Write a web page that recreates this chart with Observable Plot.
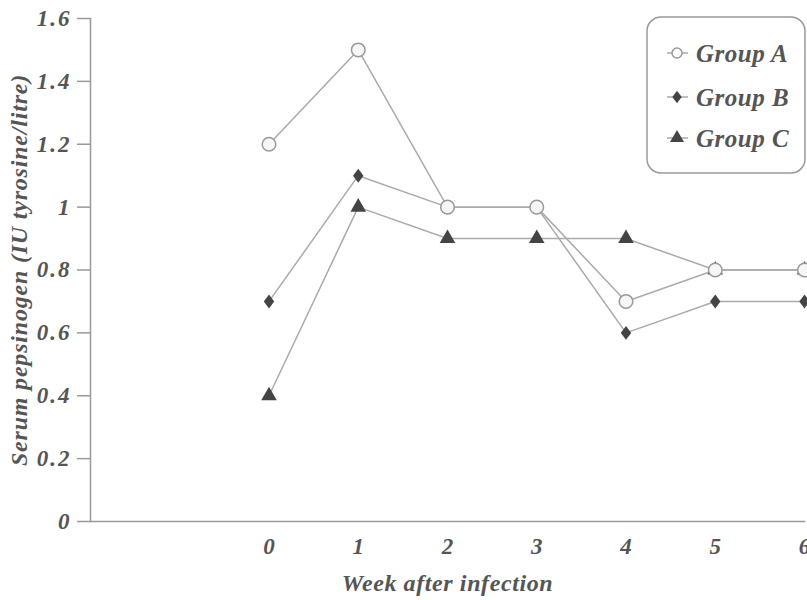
<!DOCTYPE html>
<html><head><meta charset="utf-8">
<script src="https://cdn.jsdelivr.net/npm/d3@7"></script>
<script src="https://cdn.jsdelivr.net/npm/@observablehq/plot@0.6"></script>
<style>
body{margin:0;background:#fff}
#chart{position:relative;width:807px;height:600px;overflow:hidden}
#legend{position:absolute;left:640px;top:10px}
#chart svg g[aria-label="y-axis tick label"]{font-size:23px;letter-spacing:2px}
#chart svg g[aria-label="x-axis tick label"]{font-size:23px}
#chart svg g[aria-label="x-axis label"]{font-size:24px;letter-spacing:0.6px}
#chart svg g[aria-label="y-axis label"]{font-size:24px;letter-spacing:0.8px}
</style>
</head><body><div id="chart"></div>
<script>
const weeks = [0, 1, 2, 3, 4, 5, 6];
const groupA = [1.2, 1.5, 1.0, 1.0, 0.7, 0.8, 0.8];
const groupB = [0.7, 1.1, 1.0, 1.0, 0.6, 0.7, 0.7];
const groupC = [0.4, 1.0, 0.9, 0.9, 0.9, 0.8, 0.8];
const groupNames = ["Group A", "Group B", "Group C"];
const yTicks = [0, 0.2, 0.4, 0.6, 0.8, 1, 1.2, 1.4, 1.6];
const yTickLabels = ["0", "0.2", "0.4", "0.6", "0.8", "1", "1.2", "1.4", "1.6"];
const xLabel = "Week after infection";
const yLabel = "Serum pepsinogen (IU tyrosine/litre)";

const series = [groupA, groupB, groupC];
const rows = series.flatMap((vals, g) => weeks.map((w, i) => ({week: w, value: vals[i], group: groupNames[g]})));
const rowsOf = name => rows.filter(d => d.group === name);

// diamond, taller than wide (width = 0.75 * height), area = size
const diamond = {
  draw(context, size) {
    const h = Math.sqrt(size / 0.375), w = h * 0.75;
    context.moveTo(0, -h / 2);
    context.lineTo(w / 2, 0);
    context.lineTo(0, h / 2);
    context.lineTo(-w / 2, 0);
    context.closePath();
  }
};

const font = "'Liberation Serif', 'DejaVu Serif', serif";
const lineColor = "#aaa", axisColor = "#999", markColor = "#444", textColor = "#555";

const chart = Plot.plot({
  width: 807,
  height: 600,
  marginLeft: 90,
  marginRight: 3,
  marginTop: 18,
  marginBottom: 79,
  style: {fontFamily: font, fontWeight: "bold", fontStyle: "italic", fontSize: "22px", color: textColor, background: "#fff"},
  x: {domain: [-2, 6]},
  y: {domain: [0, 1.6]},
  marks: [
    Plot.frame({anchor: "left", stroke: axisColor, strokeWidth: 1.5}),
    Plot.frame({anchor: "bottom", stroke: axisColor, strokeWidth: 1.5}),
    Plot.axisY({ticks: yTicks, tickFormat: d => yTickLabels[yTicks.indexOf(d)], tickSize: 13, tickPadding: 6, stroke: axisColor, strokeWidth: 1.5, label: yLabel, labelArrow: "none", labelAnchor: "center", labelOffset: 81}),
    Plot.axisX({ticks: weeks, tickFormat: d => String(d), tickSize: 0, tickPadding: 16, label: xLabel, labelArrow: "none", labelAnchor: "center", labelOffset: 69}),
    Plot.line(rows, {x: "week", y: "value", z: "group", stroke: lineColor, strokeWidth: 1.5}),
    Plot.dot(rowsOf("Group C"), {x: "week", y: "value", symbol: "triangle", r: 5.8, fill: markColor, stroke: "none"}),
    Plot.dot(rowsOf("Group B"), {x: "week", y: "value", symbol: diamond, r: 4.8, fill: markColor, stroke: "none"}),
    Plot.dot(rowsOf("Group A"), {x: "week", y: "value", symbol: "circle", r: 6.8, fill: "#f6f6f6", stroke: axisColor, strokeWidth: 1.5})
  ]
});

const container = document.getElementById("chart");
container.appendChild(chart);

// legend
const lg = d3.select(container).append("svg").attr("id", "legend").attr("width", 167).attr("height", 170);
lg.append("rect").attr("x", 7).attr("y", 7).attr("width", 158).attr("height", 156).attr("rx", 14)
  .attr("fill", "#fff").attr("stroke", axisColor).attr("stroke-width", 1.5);
const rowY = [43, 87, 128];
const symbols = [
  {type: d3.symbolCircle, size: Math.PI * 25, fill: "#fff", stroke: axisColor},
  {type: diamond, size: Math.PI * 4.3 * 4.3, fill: markColor, stroke: "none"},
  {type: d3.symbolTriangle, size: Math.PI * 27, fill: markColor, stroke: "none"}
];
groupNames.forEach((name, i) => {
  const g = lg.append("g").attr("transform", `translate(0,${rowY[i]})`);
  g.append("line").attr("x1", 27).attr("x2", 48).attr("y1", 0).attr("y2", 0).attr("stroke", lineColor).attr("stroke-width", 1.5);
  g.append("path").attr("transform", "translate(37,0)").attr("d", d3.symbol(symbols[i].type, symbols[i].size)())
    .attr("fill", symbols[i].fill).attr("stroke", symbols[i].stroke).attr("stroke-width", 1.5);
  g.append("text").attr("x", 56).attr("y", 0).attr("dy", "0.35em").text(name)
    .attr("font-family", font).attr("font-weight", "bold").attr("font-style", "italic").attr("font-size", 25).attr("letter-spacing", "0.5px").attr("fill", textColor);
});
</script>
</body></html>
